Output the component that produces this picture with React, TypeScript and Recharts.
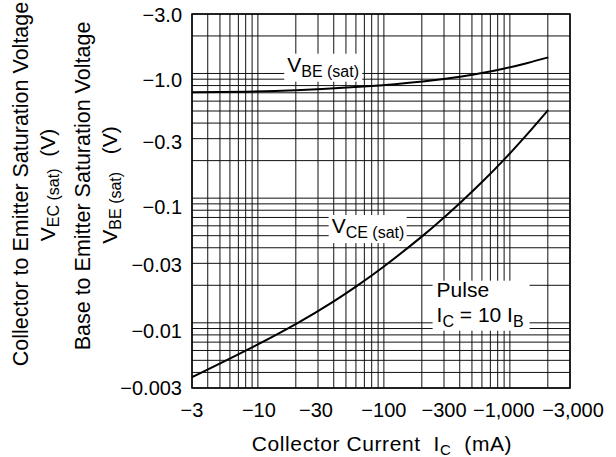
import React from "react";
import {
  LineChart,
  Line,
  XAxis,
  YAxis,
  CartesianGrid,
  ReferenceDot,
  ReferenceArea,
  Customized,
} from "recharts";

// VBE(sat) / VCE(sat) vs collector current, log-log, magnitudes plotted (labels carry the minus sign).

const FONT = '"Liberation Sans", Arial, Helvetica, sans-serif';

// collector current |IC| (mA) and saturation voltage |V| (V)
const vbeCurrent = [3, 8.15, 20, 68.7, 203, 414, 615, 887, 1358, 2016];
const vbeVoltage = [0.7065, 0.715, 0.734, 0.786, 0.863, 0.947, 1.0125, 1.09, 1.209, 1.346];

const vceCurrent = [3, 8.15, 20.3, 39.7, 60.8, 100, 203, 301, 414, 615, 887, 1358, 2016];
const vceVoltage = [
  0.00366, 0.00604, 0.00986, 0.0148, 0.0197, 0.0283, 0.0498, 0.0702, 0.094, 0.1378, 0.2008,
  0.3216, 0.511,
];

const xGrid = [
  3, 4, 5, 6, 7, 8, 9, 10, 20, 30, 40, 50, 60, 70, 80, 90, 100, 200, 300, 400, 500, 600, 700,
  800, 900, 1000, 2000, 3000,
];
const xLabelled = [3, 10, 30, 100, 300, 1000, 3000];
const xLabels = ["−3", "−10", "−30", "−100", "−300", "−1,000", "−3,000"];

const yGrid = [
  0.003, 0.004, 0.005, 0.006, 0.007, 0.008, 0.009, 0.01, 0.02, 0.03, 0.04, 0.05, 0.06, 0.07,
  0.08, 0.09, 0.1, 0.2, 0.3, 0.4, 0.5, 0.6, 0.7, 0.8, 0.9, 1, 2, 3,
];
const yLabelled = [0.003, 0.01, 0.03, 0.1, 0.3, 1, 3];
const yLabels = ["−0.003", "−0.01", "−0.03", "−0.1", "−0.3", "−1.0", "−3.0"];

// the printed sheet sets some tick labels a little off their grid lines
const xLabelShift = [0, 1, -2, 0, 0, -6, 3];
const yLabelShift = [0, 8, 2, 9, 3, 6, 1];

const vbeData = vbeCurrent.map((x, i) => ({ x, y: vbeVoltage[i] }));
const vceData = vceCurrent.map((x, i) => ({ x, y: vceVoltage[i] }));

function XTick(props: any) {
  const { x, y, payload } = props;
  const i = xLabelled.indexOf(payload.value);
  if (i < 0) return null;
  return (
    <text
      x={x + xLabelShift[i]}
      y={y}
      dy="0.71em"
      textAnchor="middle"
      fontSize={20}
      fontFamily={FONT}
      fill="#000"
    >
      {xLabels[i]}
    </text>
  );
}

function YTick(props: any) {
  const { x, y, payload } = props;
  const i = yLabelled.indexOf(payload.value);
  if (i < 0) return null;
  return (
    <text
      x={x}
      y={y + yLabelShift[i]}
      dy="0.355em"
      textAnchor="end"
      fontSize={20}
      fontFamily={FONT}
      fill="#000"
    >
      {yLabels[i]}
    </text>
  );
}

function CurveTag(props: any) {
  const { cx, cy, sub } = props;
  return (
    <g>
      <rect x={cx - 3} y={cy - 18} width={78} height={28} fill="#fff" />
      <text x={cx} y={cy} fontSize={21} fontFamily={FONT} fill="#000" xmlSpace="preserve">
        V
        <tspan fontSize={16} dy={5}>
          {sub}
        </tspan>
      </text>
    </g>
  );
}

function PulseTag(props: any) {
  const { cx, cy } = props;
  return (
    <g>
      <rect x={cx - 4} y={cy - 16} width={97} height={50} fill="#fff" />
      <text x={cx} y={cy} fontSize={21} fontFamily={FONT} fill="#000">
        Pulse
      </text>
      <text x={cx} y={cy + 25} fontSize={21} fontFamily={FONT} fill="#000" xmlSpace="preserve">
        I
        <tspan fontSize={16} dy={5}>
          C
        </tspan>
        <tspan dy={-5}>{" = 10 I"}</tspan>
        <tspan fontSize={16} dy={5}>
          B
        </tspan>
      </text>
    </g>
  );
}

function Titles() {
  return (
    <g fontFamily={FONT} fill="#000">
      <text
        x={382}
        y={451}
        fontSize={21}
        letterSpacing={0.6}
        textAnchor="middle"
        xmlSpace="preserve"
      >
        {"Collector Current  I"}
        <tspan fontSize={15} dy={4}>
          C
        </tspan>
        <tspan dy={-4}>{"  (mA)"}</tspan>
      </text>
      <text transform="rotate(-90)" x={-184} y={28} fontSize={21.5} textAnchor="middle">
        Collector to Emitter Saturation Voltage
      </text>
      <text
        transform="rotate(-90)"
        x={-185}
        y={55}
        fontSize={21}
        textAnchor="middle"
        xmlSpace="preserve"
      >
        V
        <tspan fontSize={16} dy={4}>
          {"EC (sat)"}
        </tspan>
        <tspan dy={-4}>{"  (V)"}</tspan>
      </text>
      <text transform="rotate(-90)" x={-186} y={90} fontSize={21.5} textAnchor="middle">
        Base to Emitter Saturation Voltage
      </text>
      <text
        transform="rotate(-90)"
        x={-185}
        y={117}
        fontSize={21}
        textAnchor="middle"
        xmlSpace="preserve"
      >
        V
        <tspan fontSize={16} dy={4}>
          {"BE (sat)"}
        </tspan>
        <tspan dy={-4}>{"   (V)"}</tspan>
      </text>
    </g>
  );
}

export default function App() {
  return (
    <div style={{ position: "absolute", left: 0, top: 0, background: "#fff" }}>
      <LineChart width={616} height={457} margin={{ top: 14, right: 46, bottom: 0, left: 0 }}>
        <CartesianGrid stroke="#111" strokeWidth={1} />
        <XAxis
          dataKey="x"
          type="number"
          scale="log"
          domain={[3, 3000]}
          allowDataOverflow
          ticks={xGrid}
          interval={0}
          tick={<XTick />}
          tickLine={false}
          tickSize={0}
          tickMargin={15}
          axisLine={false}
          height={69}
        />
        <YAxis
          dataKey="y"
          type="number"
          scale="log"
          domain={[0.003, 3]}
          allowDataOverflow
          ticks={yGrid}
          interval={0}
          tick={<YTick />}
          tickLine={false}
          tickSize={0}
          tickMargin={10}
          axisLine={false}
          width={192}
        />
        <ReferenceArea
          x1={3}
          x2={3000}
          y1={0.003}
          y2={3}
          fill="none"
          stroke="#000"
          strokeWidth={1.5}
          ifOverflow="visible"
        />
        <Line
          data={vbeData}
          dataKey="y"
          type="natural"
          stroke="#000"
          strokeWidth={2}
          dot={false}
          isAnimationActive={false}
        />
        <Line
          data={vceData}
          dataKey="y"
          type="natural"
          stroke="#000"
          strokeWidth={2}
          dot={false}
          isAnimationActive={false}
        />
        <ReferenceDot x={17.1} y={1.034} r={1} shape={(p: any) => <CurveTag {...p} sub="BE (sat)" />} />
        <ReferenceDot x={38.5} y={0.0525} r={1} shape={(p: any) => <CurveTag {...p} sub="CE (sat)" />} />
        <ReferenceDot x={262} y={0.0162} r={1} shape={(p: any) => <PulseTag {...p} />} />
        <Customized component={Titles} />
      </LineChart>
    </div>
  );
}
